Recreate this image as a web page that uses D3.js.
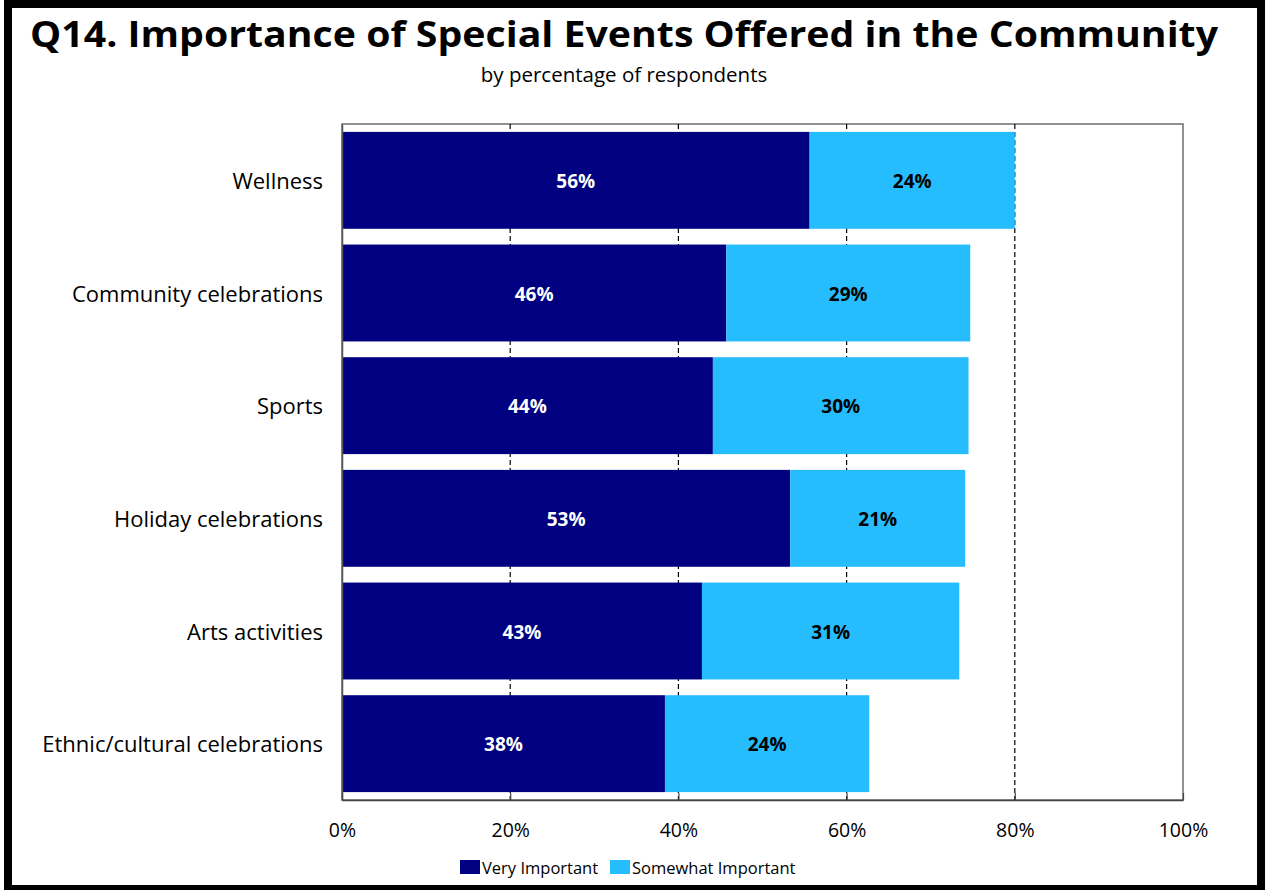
<!DOCTYPE html>
<html>
<head>
<meta charset="utf-8">
<script src="https://cdn.jsdelivr.net/npm/d3@7"></script>
<style>
  html, body { margin: 0; padding: 0; background: #fff; }
  svg { display: block; }
  text { font-family: "Open Sans", Lato, sans-serif; }
</style>
</head>
<body>
<div id="chart"></div>
<script>
// Survey categories (top to bottom) and the two stacked response shares (%)
const categories = [
  "Wellness",
  "Community celebrations",
  "Sports",
  "Holiday celebrations",
  "Arts activities",
  "Ethnic/cultural celebrations"
];
const veryImportant     = [55.6, 45.7, 44.1, 53.3, 42.8, 38.4];
const somewhatImportant = [24.4, 29.0, 30.4, 20.8, 30.6, 24.3];
const seriesNames = ["Very Important", "Somewhat Important"];
const seriesColors = ["#000080", "#26BDFF"];
const xTicks = [0, 20, 40, 60, 80, 100];

const W = 1265, H = 890;
const plot = { left: 342, top: 124, right: 1183, bottom: 800 };
const FONT = "'Open Sans', Lato, sans-serif";

const svg = d3.select("#chart").append("svg")
  .attr("width", W).attr("height", H);

svg.append("rect").attr("width", W).attr("height", H).attr("fill", "#fff");

// Title block
svg.append("text")
  .attr("x", 30).attr("y", 47)
  .attr("font-size", 36.5).attr("font-weight", "bold")
  .attr("textLength", 1188).attr("lengthAdjust", "spacingAndGlyphs")
  .attr("fill", "#000")
  .text("Q14. Importance of Special Events Offered in the Community");
svg.append("text")
  .attr("x", 624).attr("y", 82)
  .attr("text-anchor", "middle")
  .attr("font-size", 20.5)
  .attr("fill", "#000")
  .text("by percentage of respondents");

const x = d3.scaleLinear().domain([0, 100]).range([plot.left, plot.right]);
const y = d3.scaleBand().domain(categories)
  .range([plot.top, plot.bottom]).paddingInner(0.14).paddingOuter(0.07);

// Plot frame (top and right edges in grey)
svg.append("rect")
  .attr("x", plot.left).attr("y", plot.top)
  .attr("width", plot.right - plot.left).attr("height", plot.bottom - plot.top)
  .attr("fill", "none").attr("stroke", "#6e6e6e").attr("stroke-width", 1.5);

// Dashed gridlines
svg.append("g").selectAll("line")
  .data(xTicks.filter(t => t > 0 && t < 100))
  .join("line")
  .attr("x1", d => x(d)).attr("x2", d => x(d))
  .attr("y1", plot.top).attr("y2", plot.bottom)
  .attr("stroke", "#000").attr("stroke-width", 1.2)
  .attr("stroke-dasharray", "5,3");

// Stacked bars
const rows = categories.map((c, i) => ({
  cat: c,
  segs: [
    { s: 0, x0: 0, x1: veryImportant[i], v: veryImportant[i] },
    { s: 1, x0: veryImportant[i], x1: veryImportant[i] + somewhatImportant[i], v: somewhatImportant[i] }
  ]
}));

const rowG = svg.append("g").selectAll("g").data(rows).join("g")
  .attr("transform", d => `translate(0,${y(d.cat)})`);

rowG.selectAll("rect").data(d => d.segs).join("rect")
  .attr("x", d => x(d.x0))
  .attr("width", d => x(d.x1) - x(d.x0))
  .attr("y", 0).attr("height", y.bandwidth())
  .attr("fill", d => seriesColors[d.s]);

rowG.selectAll("text").data(d => d.segs).join("text")
  .attr("x", d => (x(d.x0) + x(d.x1)) / 2)
  .attr("y", y.bandwidth() / 2 + 1)
  .attr("dy", "0.35em")
  .attr("text-anchor", "middle")
  .attr("font-size", 19).attr("font-weight", "bold")
  .attr("fill", d => d.s === 0 ? "#fff" : "#000")
  .text(d => Math.round(d.v) + "%");

// Category axis (left)
const yAxis = svg.append("g")
  .attr("transform", `translate(${plot.left},0)`)
  .call(d3.axisLeft(y).tickSize(0).tickPadding(19));
yAxis.select(".domain").attr("stroke", "#555").attr("stroke-width", 1.5);
yAxis.selectAll(".tick text").attr("font-size", 22).attr("fill", "#000")
  .attr("dy", "0.4em")
  .style("font-family", FONT);

// Value axis (bottom) with inward ticks
const xAxis = svg.append("g")
  .attr("transform", `translate(0,${plot.bottom})`)
  .call(d3.axisBottom(x).tickValues(xTicks).tickFormat(d => d + "%")
    .tickSizeInner(-7).tickSizeOuter(0).tickPadding(23));
xAxis.select(".domain").attr("stroke", "#444").attr("stroke-width", 1.5);
xAxis.selectAll(".tick line").attr("stroke", "#444").attr("stroke-width", 1.2);
xAxis.selectAll(".tick text").attr("font-size", 19.5).attr("fill", "#000")
  .style("font-family", FONT);

// Legend
const legend = svg.append("g").attr("transform", "translate(460,860)");
const legendX = [0, 150];
seriesNames.forEach((name, i) => {
  const g = legend.append("g").attr("transform", `translate(${legendX[i]},0)`);
  g.append("rect").attr("width", 20).attr("height", 14).attr("fill", seriesColors[i]);
  g.append("text").attr("x", 22).attr("y", 8).attr("dy", "0.35em")
    .attr("font-size", 16.5).attr("fill", "#000").text(name);
});

// Outer frame
svg.append("rect")
  .attr("x", 8).attr("y", 4).attr("width", 1253).attr("height", 885)
  .attr("fill", "none").attr("stroke", "#000").attr("stroke-width", 8);
</script>
</body>
</html>
